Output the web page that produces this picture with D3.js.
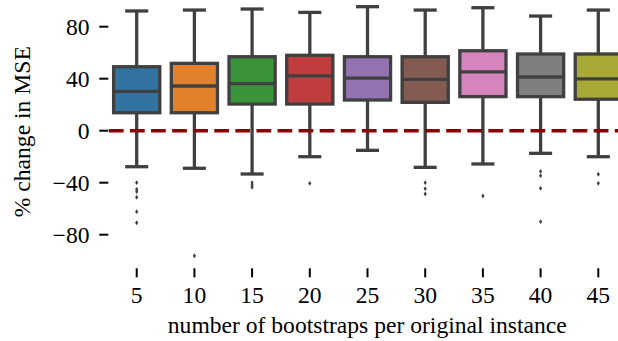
<!DOCTYPE html>
<html>
<head>
<meta charset="utf-8">
<script src="https://cdn.jsdelivr.net/npm/d3@7/dist/d3.min.js"></script>
<style>
  html, body { margin: 0; padding: 0; background: #ffffff; }
  svg { display: block; }
</style>
</head>
<body>
<svg id="chart" width="618" height="341"></svg>
<script>
// Bootstraps per original instance
const categories = ["5", "10", "15", "20", "25", "30", "35", "40", "45"];

// Box summary statistics (% change in MSE)
const whiskerLow  = [-27.7, -28.9, -33.3, -20.0, -15.1, -28.2, -25.6, -17.4, -20.0];
const q1          = [ 13.8,  13.8,  20.5,  20.5,  23.6,  21.8,  26.2,  26.2,  24.2];
const median      = [ 30.3,  34.4,  36.2,  42.1,  40.5,  39.5,  45.2,  41.3,  39.8];
const q3          = [ 49.2,  51.8,  56.9,  58.0,  56.9,  56.9,  61.5,  59.0,  59.0];
const whiskerHigh = [ 92.1,  92.8,  93.6,  91.0,  95.4,  92.8,  94.6,  88.2,  92.8];

// Points beyond the whiskers
const outliers = [
  [-40.0, -45.1, -46.9, -51.2, -62.3, -70.8],
  [-96.2],
  [-40.0, -41.8, -43.5],
  [-40.5],
  [],
  [-40.0, -44.6, -48.7],
  [-50.2],
  [-31.3, -34.6, -44.3, -70.0],
  [-33.5, -40.5]
];

const colors = ["#3274a1", "#e1812c", "#3a923a", "#c03d3e", "#9372b2",
                "#845b53", "#d684bd", "#7f7f7f", "#a9aa35"];

const yTicks = [-80, -40, 0, 40, 80];

const svg = d3.select("#chart");
const lineColor = "#404040";
const lw = 3.3;
const fontSize = "23.6px";

const x = d3.scaleBand().domain(categories).range([107.85, 627.15]).padding(0);
const y = d3.scaleLinear().domain([-100, 100]).range([260.7, 0.7]);

const boxW = x.bandwidth() * 0.8;
const capW = boxW / 2;

const data = categories.map((c, i) => ({
  c, color: colors[i],
  lo: whiskerLow[i], q1: q1[i], med: median[i], q3: q3[i], hi: whiskerHigh[i],
  out: outliers[i]
}));

const groups = svg.append("g").selectAll("g.box").data(data).join("g").attr("class", "box")
  .attr("transform", d => `translate(${x(d.c) + x.bandwidth() / 2},0)`);

// whiskers
groups.append("line")
  .attr("x1", 0).attr("x2", 0)
  .attr("y1", d => y(d.q3)).attr("y2", d => y(d.hi))
  .attr("stroke", lineColor).attr("stroke-width", lw);
groups.append("line")
  .attr("x1", 0).attr("x2", 0)
  .attr("y1", d => y(d.q1)).attr("y2", d => y(d.lo))
  .attr("stroke", lineColor).attr("stroke-width", lw);
// caps
groups.append("line")
  .attr("x1", -capW / 2).attr("x2", capW / 2)
  .attr("y1", d => y(d.hi)).attr("y2", d => y(d.hi))
  .attr("stroke", lineColor).attr("stroke-width", lw);
groups.append("line")
  .attr("x1", -capW / 2).attr("x2", capW / 2)
  .attr("y1", d => y(d.lo)).attr("y2", d => y(d.lo))
  .attr("stroke", lineColor).attr("stroke-width", lw);
// boxes
groups.append("rect")
  .attr("x", -boxW / 2).attr("width", boxW)
  .attr("y", d => y(d.q3)).attr("height", d => y(d.q1) - y(d.q3))
  .attr("fill", d => d.color)
  .attr("stroke", lineColor).attr("stroke-width", lw);
// medians
groups.append("line")
  .attr("x1", -boxW / 2).attr("x2", boxW / 2)
  .attr("y1", d => y(d.med)).attr("y2", d => y(d.med))
  .attr("stroke", lineColor).attr("stroke-width", lw);
// outliers (thin diamonds)
groups.selectAll("path.out").data(d => d.out).join("path").attr("class", "out")
  .attr("d", v => {
    const cy = y(v);
    return `M0,${cy - 2.4}L1.6,${cy}L0,${cy + 2.4}L-1.6,${cy}Z`;
  })
  .attr("fill", lineColor);

// zero reference line
svg.append("line")
  .attr("x1", 108.9).attr("x2", 640)
  .attr("y1", y(0)).attr("y2", y(0))
  .attr("stroke", "#8b0000").attr("stroke-width", 3.5)
  .attr("stroke-dasharray", "14.7,6.38");

// y axis: ticks and labels only, drawn from the scale
const yAxis = svg.append("g");
yAxis.selectAll("line").data(yTicks).join("line")
  .attr("x1", 99.3).attr("x2", 108.3)
  .attr("y1", d => y(d)).attr("y2", d => y(d))
  .attr("stroke", "#000").attr("stroke-width", 2);
yAxis.selectAll("text").data(yTicks).join("text")
  .attr("x", 89.5).attr("y", d => y(d)).attr("dy", "0.34em")
  .attr("text-anchor", "end")
  .style("font-family", "'Liberation Serif'").style("font-size", fontSize)
  .text(d => d < 0 ? "\u2212" + Math.abs(d) : String(d));

// x axis: ticks offset below the data
const xAxis = svg.append("g");
xAxis.selectAll("line").data(categories).join("line")
  .attr("x1", d => x(d) + x.bandwidth() / 2).attr("x2", d => x(d) + x.bandwidth() / 2)
  .attr("y1", 268.3).attr("y2", 277.3)
  .attr("stroke", "#000").attr("stroke-width", 2);
xAxis.selectAll("text").data(categories).join("text")
  .attr("x", d => x(d) + x.bandwidth() / 2).attr("y", 302.6)
  .attr("text-anchor", "middle")
  .style("font-family", "'Liberation Serif'").style("font-size", fontSize)
  .text(d => d);

// axis titles
svg.append("text")
  .attr("x", 367.3).attr("y", 333)
  .attr("text-anchor", "middle")
  .style("font-family", "'Liberation Serif'").style("font-size", fontSize)
  .text("number of bootstraps per original instance");

svg.append("text")
  .attr("transform", "translate(29.6,131.7) rotate(-90)")
  .attr("text-anchor", "middle")
  .style("font-family", "'Liberation Serif'").style("font-size", fontSize)
  .text("% change in MSE");
</script>
</body>
</html>
